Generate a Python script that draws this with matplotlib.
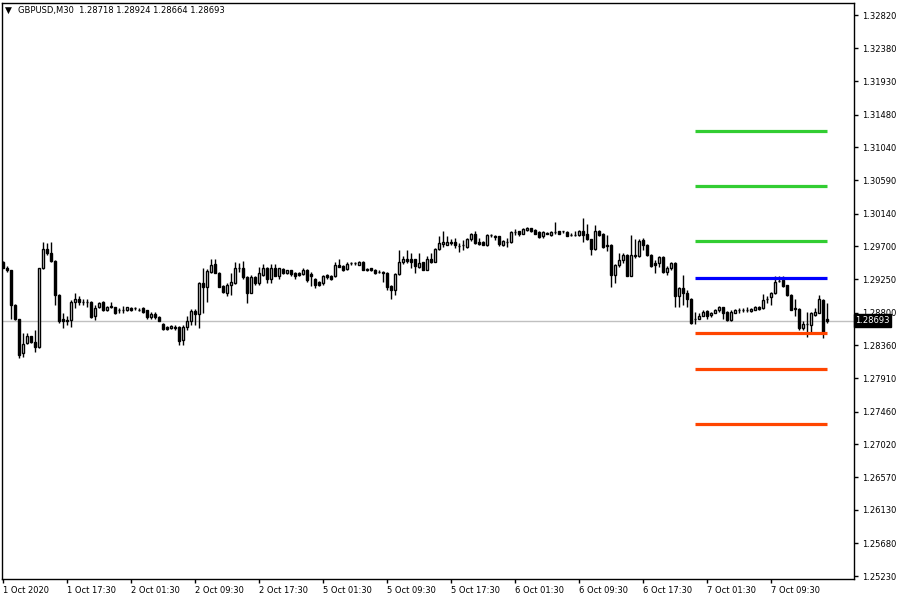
import matplotlib
matplotlib.use('Agg')
import matplotlib.pyplot as plt
import matplotlib.transforms as mtransforms
import numpy as np

plt.rcParams['font.family'] = ['DejaVu Sans']

SYMBOL = 'GBPUSD,M30'

# M30 bars, 1 Oct 09:30 .. 7 Oct 16:30
opens = [
    1.2948, 1.2941, 1.2938, 1.2890, 1.2872, 1.2825, 1.2839, 1.2848, 1.2840, 1.2834,
    1.2940, 1.2966, 1.2960, 1.2950, 1.2904, 1.2872, 1.2870, 1.2870, 1.2895, 1.2899,
    1.2895, 1.2895, 1.2895, 1.2875, 1.2887, 1.2895, 1.2883, 1.2888, 1.2887, 1.2883,
    1.2884, 1.2883, 1.2886, 1.2886, 1.2884, 1.2886, 1.2883, 1.2874, 1.2878, 1.2874,
    1.2864, 1.2861, 1.2859, 1.2861, 1.2861, 1.2843, 1.2861, 1.2869, 1.2882, 1.2878,
    1.2920, 1.2915, 1.2935, 1.2946, 1.2934, 1.2916, 1.2907, 1.2917, 1.2920, 1.2940,
    1.2940, 1.2928, 1.2907, 1.2928, 1.2920, 1.2931, 1.2940, 1.2926, 1.2941, 1.2930,
    1.2939, 1.2933, 1.2937, 1.2934, 1.2934, 1.2932, 1.2938, 1.2932, 1.2926, 1.2922,
    1.2920, 1.2931, 1.2930, 1.2929, 1.2944, 1.2943, 1.2939, 1.2947, 1.2947, 1.2945,
    1.2949, 1.2939, 1.2940, 1.2938, 1.2935, 1.2935, 1.2934, 1.2916, 1.2911, 1.2932,
    1.2948, 1.2952, 1.2952, 1.2952, 1.2942, 1.2948, 1.2938, 1.2952, 1.2949, 1.2966,
    1.2973, 1.2972, 1.2976, 1.2975, 1.2970, 1.2971, 1.2969, 1.2979, 1.2986, 1.2976,
    1.2976, 1.2971, 1.2985, 1.2984, 1.2983, 1.2972, 1.2976, 1.2975, 1.2989, 1.2990,
    1.2987, 1.2992, 1.2994, 1.2992, 1.2989, 1.2983, 1.2988, 1.2985, 1.2989, 1.2990,
    1.2990, 1.2989, 1.2985, 1.2985, 1.2985, 1.2990, 1.2987, 1.2979, 1.2966, 1.2991,
    1.2987, 1.2972, 1.2972, 1.2931, 1.2944, 1.2951, 1.2958, 1.2930, 1.2958, 1.2956,
    1.2978, 1.2972, 1.2958, 1.2947, 1.2947, 1.2955, 1.2935, 1.2940, 1.2947, 1.2902,
    1.2913, 1.2907, 1.2899, 1.2872, 1.2872, 1.2876, 1.2882, 1.2877, 1.2880, 1.2883,
    1.2887, 1.2881, 1.2870, 1.2880, 1.2884, 1.2884, 1.2884, 1.2882, 1.2884, 1.2888,
    1.2886, 1.2899, 1.2901, 1.2906, 1.2923, 1.2924, 1.2917, 1.2904, 1.2886, 1.2885,
    1.2859, 1.2865, 1.2863, 1.2877, 1.2880, 1.2897, 1.28718,
]
highs = [
    1.2950, 1.2943, 1.2938, 1.2891, 1.2872, 1.2852, 1.2852, 1.2849, 1.2857, 1.2941,
    1.2976, 1.2974, 1.2975, 1.2951, 1.2905, 1.2879, 1.2875, 1.2897, 1.2906, 1.2902,
    1.2899, 1.2899, 1.2896, 1.2890, 1.2894, 1.2896, 1.2889, 1.2895, 1.2888, 1.2886,
    1.2889, 1.2888, 1.2887, 1.2888, 1.2886, 1.2887, 1.2884, 1.2881, 1.2881, 1.2875,
    1.2866, 1.2862, 1.2863, 1.2863, 1.2862, 1.2863, 1.2875, 1.2885, 1.2885, 1.2921,
    1.2940, 1.2939, 1.2953, 1.2952, 1.2935, 1.2917, 1.2920, 1.2933, 1.2948, 1.2947,
    1.2950, 1.2929, 1.2931, 1.2929, 1.2942, 1.2946, 1.2942, 1.2946, 1.2946, 1.2941,
    1.2940, 1.2938, 1.2938, 1.2935, 1.2935, 1.2940, 1.2939, 1.2935, 1.2927, 1.2923,
    1.2931, 1.2932, 1.2931, 1.2948, 1.2953, 1.2944, 1.2949, 1.2949, 1.2949, 1.2950,
    1.2950, 1.2940, 1.2941, 1.2939, 1.2938, 1.2936, 1.2935, 1.2917, 1.2933, 1.2965,
    1.2956, 1.2965, 1.2960, 1.2953, 1.2960, 1.2949, 1.2957, 1.2960, 1.2967, 1.2984,
    1.2990, 1.2983, 1.2979, 1.2981, 1.2974, 1.2978, 1.2981, 1.2988, 1.2990, 1.2981,
    1.2977, 1.2986, 1.2987, 1.2985, 1.2984, 1.2978, 1.2981, 1.2990, 1.2993, 1.2991,
    1.2994, 1.2996, 1.2995, 1.2993, 1.2990, 1.2990, 1.2989, 1.2990, 1.3002, 1.2991,
    1.2991, 1.2990, 1.2988, 1.2991, 1.2992, 1.3008, 1.3000, 1.2980, 1.2999, 1.2992,
    1.2988, 1.2985, 1.2973, 1.2946, 1.2960, 1.2961, 1.2959, 1.2985, 1.2979, 1.2979,
    1.2981, 1.2973, 1.2959, 1.2951, 1.2957, 1.2956, 1.2943, 1.2948, 1.2948, 1.2915,
    1.2931, 1.2911, 1.2900, 1.2881, 1.2879, 1.2883, 1.2884, 1.2881, 1.2885, 1.2889,
    1.2888, 1.2882, 1.2883, 1.2885, 1.2886, 1.2886, 1.2887, 1.2886, 1.2889, 1.2889,
    1.2905, 1.2902, 1.2908, 1.2930, 1.2930, 1.2930, 1.2918, 1.2905, 1.2898, 1.2886,
    1.2868, 1.2881, 1.2881, 1.2886, 1.2904, 1.2898, 1.28924,
]
lows = [
    1.2940, 1.2935, 1.2872, 1.2870, 1.2818, 1.2820, 1.2838, 1.2839, 1.2827, 1.2832,
    1.2939, 1.2958, 1.2949, 1.2890, 1.2866, 1.2859, 1.2863, 1.2861, 1.2886, 1.2890,
    1.2890, 1.2888, 1.2873, 1.2870, 1.2886, 1.2882, 1.2882, 1.2886, 1.2878, 1.2880,
    1.2880, 1.2882, 1.2882, 1.2884, 1.2882, 1.2880, 1.2871, 1.2871, 1.2872, 1.2868,
    1.2856, 1.2857, 1.2858, 1.2857, 1.2836, 1.2836, 1.2857, 1.2863, 1.2863, 1.2859,
    1.2879, 1.2895, 1.2933, 1.2933, 1.2914, 1.2906, 1.2903, 1.2904, 1.2919, 1.2935,
    1.2925, 1.2893, 1.2906, 1.2917, 1.2917, 1.2930, 1.2920, 1.2920, 1.2929, 1.2926,
    1.2932, 1.2932, 1.2930, 1.2926, 1.2930, 1.2931, 1.2922, 1.2916, 1.2913, 1.2916,
    1.2917, 1.2926, 1.2924, 1.2928, 1.2942, 1.2936, 1.2938, 1.2944, 1.2945, 1.2944,
    1.2937, 1.2936, 1.2936, 1.2932, 1.2933, 1.2922, 1.2911, 1.2899, 1.2904, 1.2931,
    1.2946, 1.2947, 1.2940, 1.2933, 1.2940, 1.2937, 1.2937, 1.2947, 1.2948, 1.2965,
    1.2969, 1.2971, 1.2972, 1.2967, 1.2962, 1.2965, 1.2968, 1.2977, 1.2973, 1.2972,
    1.2971, 1.2970, 1.2982, 1.2978, 1.2970, 1.2970, 1.2969, 1.2974, 1.2985, 1.2984,
    1.2986, 1.2990, 1.2989, 1.2986, 1.2981, 1.2981, 1.2986, 1.2984, 1.2987, 1.2986,
    1.2988, 1.2983, 1.2983, 1.2983, 1.2984, 1.2975, 1.2978, 1.2958, 1.2965, 1.2984,
    1.2968, 1.2964, 1.2915, 1.2920, 1.2942, 1.2947, 1.2929, 1.2929, 1.2954, 1.2955,
    1.2965, 1.2956, 1.2942, 1.2934, 1.2942, 1.2934, 1.2931, 1.2938, 1.2888, 1.2887,
    1.2890, 1.2887, 1.2865, 1.2865, 1.2871, 1.2875, 1.2871, 1.2874, 1.2879, 1.2881,
    1.2872, 1.2869, 1.2869, 1.2879, 1.2880, 1.2881, 1.2881, 1.2881, 1.2883, 1.2884,
    1.2885, 1.2893, 1.2890, 1.2905, 1.2921, 1.2915, 1.2903, 1.2883, 1.2875, 1.2857,
    1.2856, 1.2847, 1.2852, 1.2875, 1.2879, 1.2845, 1.28664,
]
closes = [
    1.2941, 1.2938, 1.2890, 1.2872, 1.2823, 1.2838, 1.2848, 1.2840, 1.2834, 1.2940,
    1.2966, 1.2960, 1.2950, 1.2904, 1.2868, 1.2868, 1.2868, 1.2895, 1.2899, 1.2895,
    1.2895, 1.2894, 1.2874, 1.2886, 1.2893, 1.2883, 1.2888, 1.2889, 1.2879, 1.2883,
    1.2884, 1.2887, 1.2883, 1.2886, 1.2884, 1.2881, 1.2874, 1.2878, 1.2874, 1.2869,
    1.2858, 1.2858, 1.2862, 1.2859, 1.2842, 1.2861, 1.2869, 1.2882, 1.2878, 1.2920,
    1.2915, 1.2936, 1.2944, 1.2934, 1.2915, 1.2908, 1.2917, 1.2921, 1.2940, 1.2940,
    1.2928, 1.2907, 1.2928, 1.2920, 1.2933, 1.2940, 1.2926, 1.2941, 1.2930, 1.2940,
    1.2933, 1.2937, 1.2932, 1.2930, 1.2931, 1.2938, 1.2924, 1.2929, 1.2917, 1.2917,
    1.2930, 1.2928, 1.2926, 1.2944, 1.2942, 1.2938, 1.2946, 1.2947, 1.2947, 1.2949,
    1.2937, 1.2937, 1.2937, 1.2934, 1.2935, 1.2933, 1.2915, 1.2911, 1.2932, 1.2948,
    1.2952, 1.2950, 1.2949, 1.2943, 1.2947, 1.2938, 1.2952, 1.2949, 1.2966, 1.2974,
    1.2975, 1.2976, 1.2974, 1.2972, 1.2970, 1.2971, 1.2979, 1.2986, 1.2974, 1.2973,
    1.2972, 1.2985, 1.2985, 1.2982, 1.2973, 1.2977, 1.2975, 1.2989, 1.2989, 1.2987,
    1.2993, 1.2994, 1.2991, 1.2987, 1.2982, 1.2989, 1.2987, 1.2989, 1.2989, 1.2987,
    1.2990, 1.2984, 1.2985, 1.2985, 1.2990, 1.2985, 1.2979, 1.2966, 1.2991, 1.2985,
    1.2969, 1.2970, 1.2931, 1.2944, 1.2951, 1.2958, 1.2930, 1.2958, 1.2956, 1.2977,
    1.2972, 1.2958, 1.2943, 1.2945, 1.2955, 1.2935, 1.2940, 1.2947, 1.2902, 1.2913,
    1.2907, 1.2899, 1.2866, 1.2872, 1.2876, 1.2881, 1.2876, 1.2880, 1.2884, 1.2887,
    1.2880, 1.2870, 1.2881, 1.2884, 1.2884, 1.2884, 1.2884, 1.2885, 1.2888, 1.2885,
    1.2897, 1.2899, 1.2907, 1.2922, 1.2923, 1.2916, 1.2904, 1.2884, 1.2885, 1.2859,
    1.2865, 1.2865, 1.2879, 1.2881, 1.2898, 1.2854, 1.28693,
]

# time axis labels, one every 16 bars
time_labels = ['1 Oct 2020', '1 Oct 17:30', '2 Oct 01:30', '2 Oct 09:30', '2 Oct 17:30',
               '5 Oct 01:30', '5 Oct 09:30', '5 Oct 17:30', '6 Oct 01:30', '6 Oct 09:30',
               '6 Oct 17:30', '7 Oct 01:30', '7 Oct 09:30']
label_step = 16

# price scale labels as MT4 shows them
price_ticks = [1.32820, 1.32380, 1.31930, 1.31480, 1.31040, 1.30590, 1.30140, 1.29700,
               1.29250, 1.28800, 1.28360, 1.27910, 1.27460, 1.27020, 1.26570, 1.26130,
               1.25680, 1.25230]

# daily pivot levels (R3, R2, R1, P, S1, S2, S3)
pivot_levels = [1.31257, 1.30513, 1.29769, 1.29268, 1.28524, 1.28037, 1.27293]
pivot_colors = ['#32cd32', '#32cd32', '#32cd32', '#0000ff', '#ff4500', '#ff4500', '#ff4500']
pivot_start = 173  # first bar of 7 Oct

o = np.array(opens)
h = np.array(highs)
l = np.array(lows)
c = np.array(closes)
x = np.arange(len(c))
up = c >= o

fig = plt.figure(figsize=(9, 6), dpi=100)
ax = fig.add_axes([2 / 900, 1 - 579 / 600, 852 / 900, 576 / 600])

# current price line
ax.axhline(c[-1], color='#c0c0c0', lw=1, zorder=1)

# candles
ax.vlines(x, l, h, color='black', lw=1, zorder=2)
bottom = np.minimum(o, c)
height = np.abs(c - o)
ax.bar(x[up], height[up], bottom=bottom[up], width=0.55, facecolor='white',
       edgecolor='black', linewidth=1, zorder=3)
ax.bar(x[~up], height[~up], bottom=bottom[~up], width=0.55, facecolor='black',
       edgecolor='black', linewidth=1, zorder=3)

# pivot lines
ax.hlines(pivot_levels, pivot_start, x[-1], colors=pivot_colors, lw=2.3, zorder=4)

ax.set_xlim(-0.25, 212.75)
ax.set_ylim(1.25196, 1.32989)

ax.yaxis.tick_right()
ax.set_yticks(price_ticks)
ax.set_yticklabels(['%.5f' % p for p in price_ticks])
ax.set_xticks(x[::label_step][:len(time_labels)])
ax.set_xticklabels(time_labels)
for lbl in ax.get_xticklabels():
    lbl.set_ha('left')
ax.tick_params(axis='both', direction='out', length=3, width=1, color='black',
               labelsize=6, labelcolor='black')
ax.tick_params(axis='y', pad=3)
ax.tick_params(axis='x', pad=2)
for s in ax.spines.values():
    s.set_color('black')
    s.set_linewidth(1)

# current price tag on the scale (covers part of the 1.28800 label, as in MT4)
trans = mtransforms.blended_transform_factory(ax.transAxes, ax.transData)
ax.text(1.0015, c[-1], '%.5f' % c[-1], transform=trans, ha='left', va='center',
        fontsize=6, color='white', zorder=10, clip_on=False,
        bbox=dict(boxstyle='square,pad=0.2', facecolor='black', edgecolor='black'))

# header
fig.text(5 / 900, 1 - 10 / 600, '\u25bc', fontsize=6.5, va='center', ha='left')
fig.text(18 / 900, 1 - 10 / 600,
         '%s  %.5f %.5f %.5f %.5f' % (SYMBOL, o[-1], h[-1], l[-1], c[-1]),
         fontsize=6, va='center', ha='left', color='black')

fig.savefig('out.png', dpi=100, facecolor='white')
